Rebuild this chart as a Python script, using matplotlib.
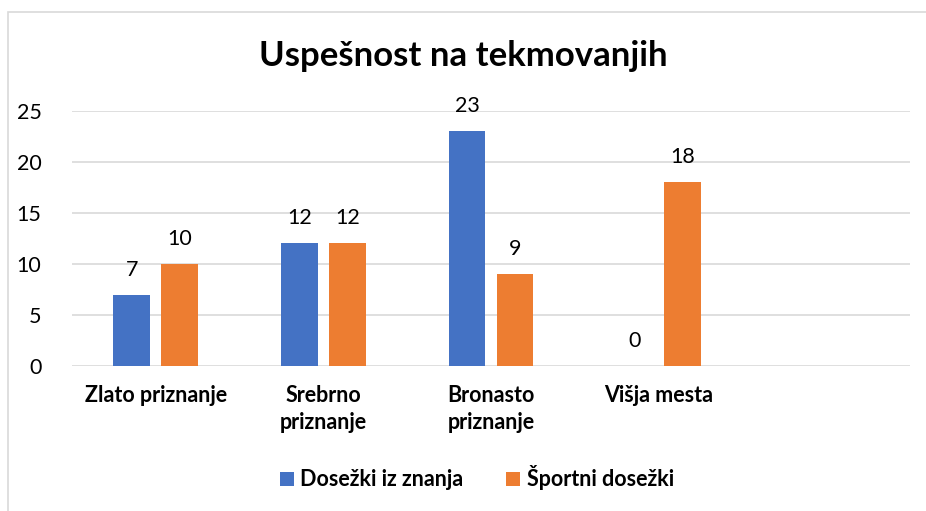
import numpy as np
import matplotlib.pyplot as plt
from matplotlib.patches import Rectangle

plt.rcParams['font.family'] = ['Lato', 'DejaVu Sans']

# podatki
categories = ['Zlato priznanje', 'Srebrno\npriznanje', 'Bronasto\npriznanje', 'Višja mesta', '']
znanje = [7, 12, 23, 0, None]
sport = [10, 12, 9, 18, None]
series_names = ['Dosežki iz znanja', 'Športni dosežki']
yticks = [0, 5, 10, 15, 20, 25]

BLUE = '#4472C4'
ORANGE = '#ED7D31'

fig = plt.figure(figsize=(9.26, 5.11), dpi=100)
ax = fig.add_axes([72 / 926, 1 - 366 / 511, (910 - 72) / 926, (366 - 110.7) / 511])

# okvir grafikona
fig.patches.append(Rectangle((7.5 / 926, -0.1), 1.2, 1.1 - 12 / 511,
                             transform=fig.transFigure, fill=False,
                             edgecolor='#d9d9d9', linewidth=1.2))

x = np.arange(len(categories))
w = 0.22
off = 0.143
for vals, sign, col, name in [(znanje, -1, BLUE, series_names[0]),
                              (sport, 1, ORANGE, series_names[1])]:
    xs = [xi + sign * off for xi, v in zip(x, vals) if v is not None]
    vs = [v for v in vals if v is not None]
    ax.bar(xs, vs, width=w, color=col, label=name, zorder=3)
    for xi, v in zip(xs, vs):
        ax.annotate(str(v), (xi, v), xytext=(0, 18), textcoords='offset points',
                    ha='center', va='center', fontsize=15.5, color='#000000')

ax.set_xlim(-0.5, len(categories) - 0.5)
ax.set_ylim(0, 25)
ax.set_yticks(yticks)
ax.set_yticklabels([str(t) for t in yticks], fontsize=15.5)
ax.set_xticks(x)
ax.set_xticklabels(categories, fontsize=15.5, fontweight='bold', linespacing=1.35, va='top')
ax.tick_params(axis='both', length=0)
ax.tick_params(axis='y', pad=22)
ax.tick_params(axis='x', pad=14)
ax.grid(axis='y', color='#d9d9d9', linewidth=1.2, zorder=0)
for s in ax.spines.values():
    s.set_visible(False)

fig.text(0.5, 1 - 56 / 511, 'Uspešnost na tekmovanjih', ha='center', va='center',
         fontsize=25, fontweight='bold')

leg = fig.legend(loc='center', bbox_to_anchor=(0.515, 1 - 478 / 511), ncol=2,
                 frameon=False, fontsize=15.5, handlelength=0.65, handleheight=0.65,
                 columnspacing=2.0, handletextpad=0.3)
for t in leg.get_texts():
    t.set_fontweight('bold')

fig.savefig('out.png', dpi=100)
